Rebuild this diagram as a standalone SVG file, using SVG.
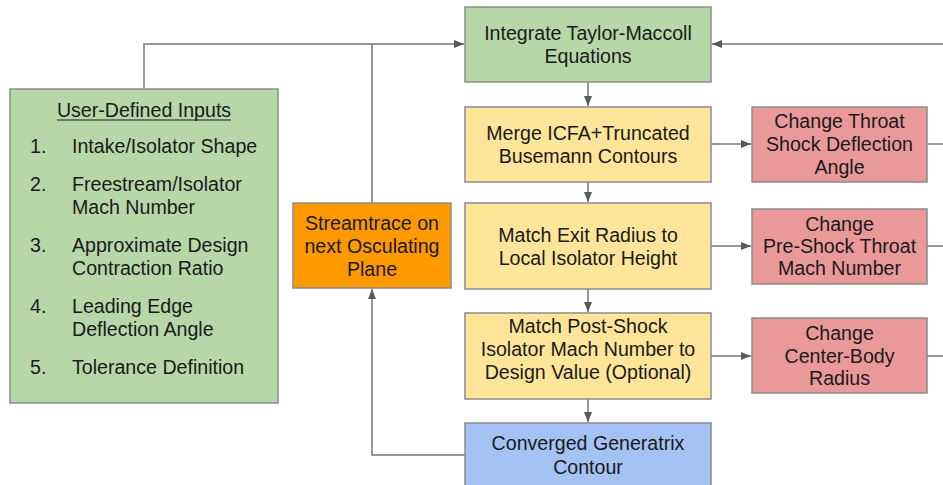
<svg xmlns="http://www.w3.org/2000/svg" width="943" height="485" viewBox="0 0 943 485">
<style>
.box{stroke:#8c8c8c;stroke-width:1.5}
.g{fill:#b6d7a8}.y{fill:#ffe599}.r{fill:#ea9999}.o{fill:#ff9900}.b{fill:#a4c2f4}
text{font-family:"Liberation Sans",Arial,sans-serif;font-size:19.6px;fill:#1a1a1a}
.c{text-anchor:middle}
.ln{fill:none;stroke:#757575;stroke-width:1.5}
</style>
<defs>
<marker id="ah" viewBox="0 0 10 10" refX="10" refY="5" markerWidth="10" markerHeight="10" markerUnits="userSpaceOnUse" orient="auto">
<path d="M0,1 L10,5 L0,9 Z" fill="#595959"/>
</marker>
</defs>
<g id="connectors">
<path class="ln" d="M144,89 V44 H464" marker-end="url(#ah)"/>
<path class="ln" d="M372,203 V44"/>
<path class="ln" d="M943,44 H712" marker-end="url(#ah)"/>
<path class="ln" d="M588,82 V106" marker-end="url(#ah)"/>
<path class="ln" d="M588,182 V202" marker-end="url(#ah)"/>
<path class="ln" d="M588,289 V312" marker-end="url(#ah)"/>
<path class="ln" d="M588,399 V422" marker-end="url(#ah)"/>
<path class="ln" d="M711,144 H751" marker-end="url(#ah)"/>
<path class="ln" d="M711,246 H751" marker-end="url(#ah)"/>
<path class="ln" d="M711,356 H751" marker-end="url(#ah)"/>
<path class="ln" d="M927,144 H943"/>
<path class="ln" d="M927,246 H943"/>
<path class="ln" d="M927,356 H943"/>
<path class="ln" d="M465,455 H372 V289" marker-end="url(#ah)"/>
</g>
<g id="user-inputs">
<rect class="box g" x="10" y="89" width="268" height="314"/>
<text class="c" x="144" y="117">User-Defined Inputs</text>
<line x1="57" y1="120" x2="231" y2="120" stroke="#1a1a1a" stroke-width="1.2"/>
<text x="30" y="153">1.</text><text x="72" y="153">Intake/Isolator Shape</text>
<text x="30" y="191">2.</text><text x="72" y="191">Freestream/Isolator</text><text x="72" y="214">Mach Number</text>
<text x="30" y="252">3.</text><text x="72" y="252">Approximate Design</text><text x="72" y="275">Contraction Ratio</text>
<text x="30" y="313">4.</text><text x="72" y="313">Leading Edge</text><text x="72" y="336">Deflection Angle</text>
<text x="30" y="374">5.</text><text x="72" y="374">Tolerance Definition</text>
</g>
<g id="integrate">
<rect class="box g" x="465" y="7" width="246" height="75"/>
<text class="c" x="588" y="40">Integrate Taylor-Maccoll</text>
<text class="c" x="588" y="63">Equations</text>
</g>
<g id="merge">
<rect class="box y" x="465" y="107" width="246" height="75"/>
<text class="c" x="588" y="140">Merge ICFA+Truncated</text>
<text class="c" x="588" y="163">Busemann Contours</text>
</g>
<g id="match-exit">
<rect class="box y" x="465" y="203" width="246" height="86"/>
<text class="c" x="588" y="242">Match Exit Radius to</text>
<text class="c" x="588" y="265">Local Isolator Height</text>
</g>
<g id="match-post">
<rect class="box y" x="465" y="313" width="246" height="86"/>
<text class="c" x="588" y="333">Match Post-Shock</text>
<text class="c" x="588" y="356">Isolator Mach Number to</text>
<text class="c" x="588" y="379">Design Value (Optional)</text>
</g>
<g id="converged">
<rect class="box b" x="465" y="423" width="246" height="70"/>
<text class="c" x="588" y="450">Converged Generatrix</text>
<text class="c" x="588" y="474">Contour</text>
</g>
<g id="streamtrace">
<rect class="box o" x="293" y="203" width="158" height="85"/>
<text class="c" x="372" y="230">Streamtrace on</text>
<text class="c" x="372" y="253">next Osculating</text>
<text class="c" x="372" y="276">Plane</text>
</g>
<g id="throat">
<rect class="box r" x="752" y="107" width="175" height="75"/>
<text class="c" x="839.5" y="128">Change Throat</text>
<text class="c" x="839.5" y="151">Shock Deflection</text>
<text class="c" x="839.5" y="174">Angle</text>
</g>
<g id="preshock">
<rect class="box r" x="752" y="209" width="175" height="75"/>
<text class="c" x="839.5" y="231">Change</text>
<text class="c" x="839.5" y="253">Pre-Shock Throat</text>
<text class="c" x="839.5" y="275">Mach Number</text>
</g>
<g id="centerbody">
<rect class="box r" x="752" y="318" width="175" height="75"/>
<text class="c" x="839.5" y="340">Change</text>
<text class="c" x="839.5" y="363">Center-Body</text>
<text class="c" x="839.5" y="385">Radius</text>
</g>
</svg>
